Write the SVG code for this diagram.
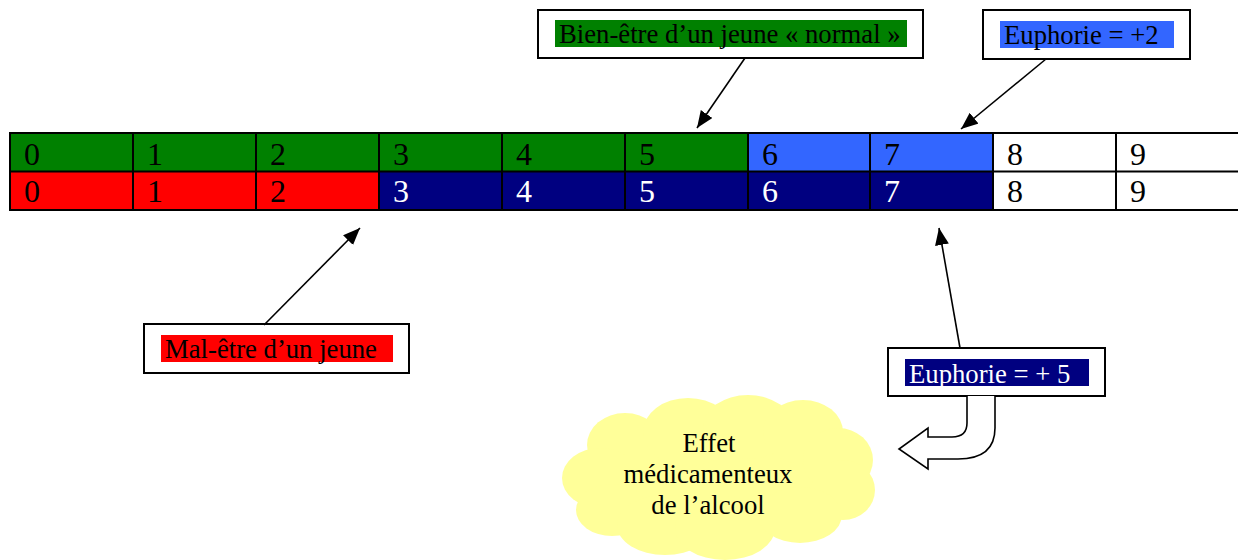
<svg xmlns="http://www.w3.org/2000/svg" width="1238" height="560" viewBox="0 0 1238 560">
  <style>
    .digit { font-family: "Liberation Serif", "Times New Roman", serif; font-size: 32px; fill: #000; }
    .digit.light { fill: #fff; }
    .label { font-family: "Liberation Serif", "Times New Roman", serif; font-size: 26.7px; fill: #000; }
    .label.light { fill: #fff; }
    .box { fill: #fff; stroke: #000; stroke-width: 2; }
    .grid { stroke: #000; stroke-width: 2; fill: none; }
    .edge { stroke: #000; stroke-width: 1.6; fill: none; marker-end: url(#head); }
    .green { fill: #008000; }
    .red { fill: #ff0000; }
    .navy { fill: #000080; }
    .sky { fill: #3366ff; }
    .cloud { fill: #ffff99; }
  </style>
  <defs>
    <marker id="head" markerUnits="userSpaceOnUse" markerWidth="18" markerHeight="14" refX="17" refY="7" orient="auto">
      <path d="M0,0 L17,7 L0,14 z" fill="#000"/>
    </marker>
  </defs>

  <rect width="1238" height="560" fill="#fff"/>

  <!-- Two-row scale 0..9 -->
  <g id="scale">
    <!-- top row fills -->
    <rect class="green" x="10" y="133" width="738" height="38"/>
    <rect class="sky" x="748" y="133" width="245" height="38"/>
    <!-- bottom row fills -->
    <rect class="red" x="10" y="171" width="369" height="39"/>
    <rect class="navy" x="379" y="171" width="614" height="39"/>

    <!-- grid lines -->
    <rect class="grid" x="10" y="133" width="1232" height="77" stroke-width="2.6"/>
    <line class="grid" x1="10" y1="171.5" x2="1240" y2="171.5"/>
    <path class="grid" d="M133,133V210 M256,133V210 M379,133V210 M502,133V210 M625,133V210 M748,133V210 M870,133V210 M993,133V210 M1116,133V210"/>

    <!-- top row numbers -->
    <text class="digit" x="24" y="165">0</text>
    <text class="digit" x="147" y="165">1</text>
    <text class="digit" x="270" y="165">2</text>
    <text class="digit" x="393" y="165">3</text>
    <text class="digit" x="516" y="165">4</text>
    <text class="digit" x="639" y="165">5</text>
    <text class="digit" x="762" y="165">6</text>
    <text class="digit" x="884" y="165">7</text>
    <text class="digit" x="1007" y="165">8</text>
    <text class="digit" x="1130" y="165">9</text>

    <!-- bottom row numbers -->
    <text class="digit" x="24" y="202">0</text>
    <text class="digit" x="147" y="202">1</text>
    <text class="digit" x="270" y="202">2</text>
    <text class="digit light" x="393" y="202">3</text>
    <text class="digit light" x="516" y="202">4</text>
    <text class="digit light" x="639" y="202">5</text>
    <text class="digit light" x="762" y="202">6</text>
    <text class="digit light" x="884" y="202">7</text>
    <text class="digit" x="1007" y="202">8</text>
    <text class="digit" x="1130" y="202">9</text>
  </g>

  <!-- Label: normal well-being -->
  <g id="bien-etre">
    <rect class="box" x="538" y="10" width="385" height="48"/>
    <rect class="green" x="555" y="20" width="352" height="27"/>
    <text class="label" x="559" y="43">Bien-être d’un jeune « normal »</text>
  </g>

  <!-- Label: euphoria +2 -->
  <g id="euphorie-2">
    <rect class="box" x="983" y="10" width="207" height="49"/>
    <rect class="sky" x="1000" y="21" width="174" height="27"/>
    <text class="label" x="1004" y="44">Euphorie = +2</text>
  </g>

  <!-- Label: ill-being -->
  <g id="mal-etre">
    <rect class="box" x="144" y="324" width="265" height="49"/>
    <rect class="red" x="161" y="335" width="232" height="27"/>
    <text class="label" x="165" y="358">Mal-être d’un jeune</text>
  </g>

  <!-- Label: euphoria +5 -->
  <g id="euphorie-5">
    <rect class="box" x="888" y="348" width="217" height="48"/>
    <rect class="navy" x="905" y="359" width="184" height="27"/>
    <text class="label light" x="909" y="383">Euphorie = + 5</text>
  </g>

  <!-- Cloud: medicinal effect of alcohol -->
  <g id="effet-alcool">
    <g class="cloud">
      <ellipse cx="705" cy="478" rx="125" ry="60"/>
      <ellipse cx="625" cy="445" rx="38" ry="32"/>
      <ellipse cx="688" cy="432" rx="45" ry="34"/>
      <ellipse cx="748" cy="427" rx="45" ry="32"/>
      <ellipse cx="803" cy="432" rx="40" ry="32"/>
      <ellipse cx="838" cy="460" rx="35" ry="32"/>
      <ellipse cx="843" cy="490" rx="32" ry="30"/>
      <ellipse cx="600" cy="478" rx="38" ry="30"/>
      <ellipse cx="612" cy="510" rx="36" ry="26"/>
      <ellipse cx="665" cy="525" rx="48" ry="30"/>
      <ellipse cx="725" cy="528" rx="50" ry="32"/>
      <ellipse cx="800" cy="515" rx="42" ry="28"/>
    </g>
    <text class="label" x="709" y="452" text-anchor="middle">Effet</text>
    <text class="label" x="708" y="483" text-anchor="middle">médicamenteux</text>
    <text class="label" x="708" y="514" text-anchor="middle">de l’alcool</text>
  </g>

  <!-- Connectors -->
  <g id="connectors">
    <line class="edge" x1="745" y1="58" x2="697" y2="128"/>
    <line class="edge" x1="1046" y1="59" x2="961" y2="129"/>
    <line class="edge" x1="264" y1="325" x2="360" y2="228"/>
    <line class="edge" x1="960" y1="348" x2="939" y2="228"/>
    <!-- curved block arrow from euphoria +5 into the cloud -->
    <path d="M967,396 V423 Q967,437 952,437 H928 V428 L899,449 L928,469 V459 H958 Q995,459 995,428 V396"
          fill="#fff" stroke="#000" stroke-width="1.6" stroke-linejoin="miter"/>
  </g>
</svg>
